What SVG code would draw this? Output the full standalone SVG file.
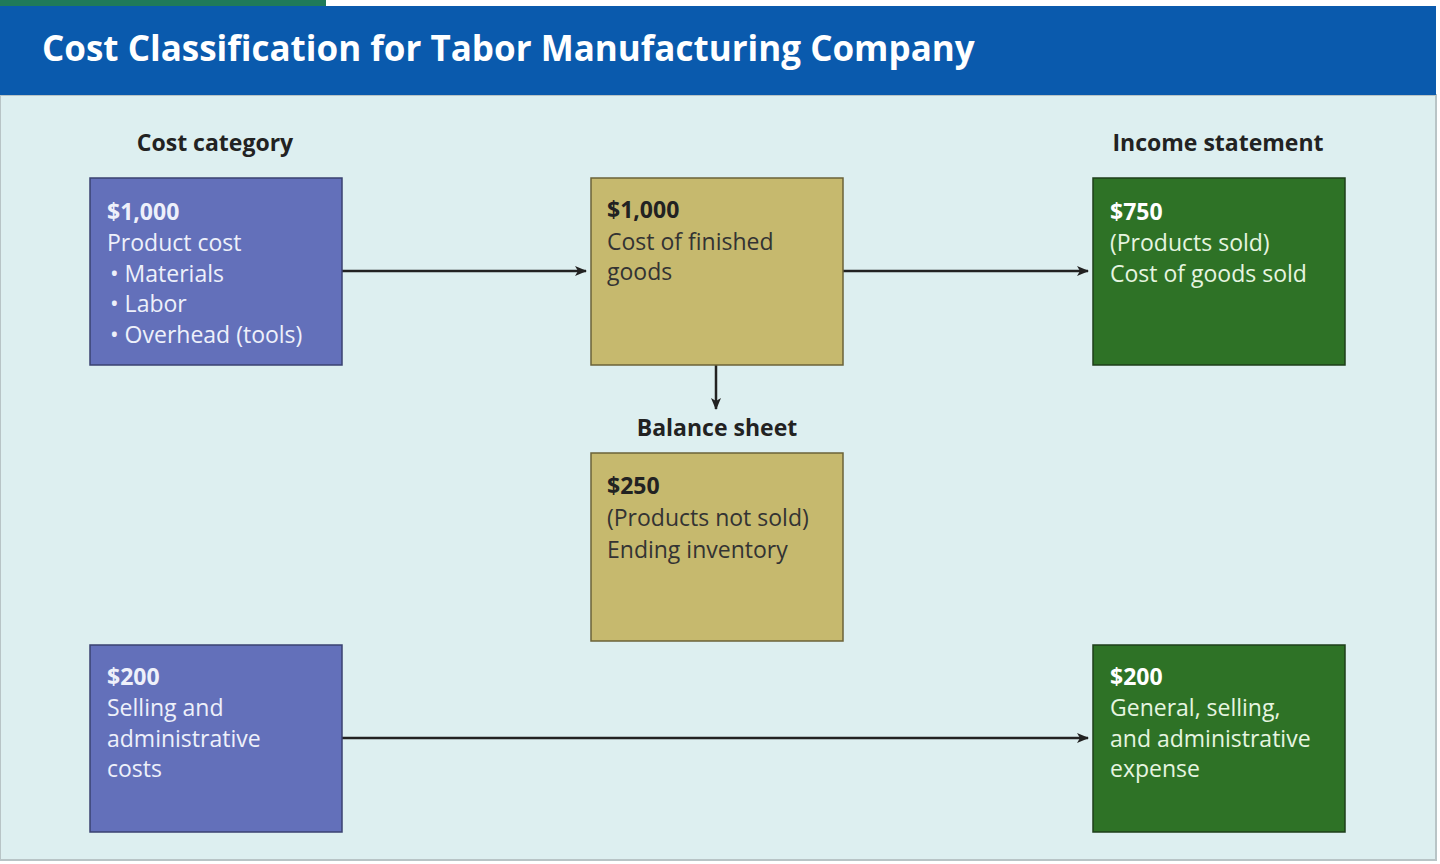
<svg xmlns="http://www.w3.org/2000/svg" width="1440" height="864" viewBox="0 0 1440 864">
<defs>
<style>
text{font-family:"Open Sans","Liberation Sans",sans-serif;}
.h{font-size:23px;font-weight:bold;fill:#222;}
.t{font-size:23px;}
.b{font-weight:bold;}
.w{fill:#eef0fa;}
.k{fill:#333;}
.g{fill:#e6f5e0;}
.blue{fill:#6370ba;stroke:#3a4270;stroke-width:1.5;}
.tan{fill:#c6b96e;stroke:#6b6338;stroke-width:1.5;}
.grn{fill:#2e7226;stroke:#1e3f1a;stroke-width:1.5;}
.c{stroke:#222;stroke-width:2.5;fill:none;marker-end:url(#a);}
</style>
<marker id="a" viewBox="0 0 12 10" refX="11" refY="5" markerWidth="12" markerHeight="10" markerUnits="userSpaceOnUse" orient="auto"><path d="M0,0 L12,5 L0,10 L3,5 Z" fill="#222"/></marker>
</defs>
<rect width="1440" height="864" fill="#fff"/>
<rect x="0" y="95" width="1436" height="765" fill="#ddeff0" stroke="#b8c4c6" stroke-width="2"/>
<rect x="0" y="0" width="326" height="6" fill="#1f7a5a"/>
<rect x="0" y="6" width="1436" height="89" fill="#0a5aad"/>
<text x="42" y="61" style="font-size:35px;font-weight:bold;fill:#fff;font-family:'Open Sans','Liberation Sans',sans-serif">Cost Classification for Tabor Manufacturing Company</text>
<text x="215" y="151" text-anchor="middle" class="h">Cost category</text>
<text x="1218" y="151" text-anchor="middle" class="h">Income statement</text>
<text x="717" y="436" text-anchor="middle" class="h">Balance sheet</text>
<g id="connectors">
<line x1="342" y1="271" x2="586" y2="271" class="c"/>
<line x1="843" y1="271" x2="1088" y2="271" class="c"/>
<line x1="716" y1="365" x2="716" y2="409" class="c"/>
<line x1="342" y1="738" x2="1088" y2="738" class="c"/>
</g>
<g id="n1"><rect x="90" y="178" width="252" height="187" class="blue"/>
<text class="t w"><tspan x="107" y="220" class="b">$1,000</tspan><tspan x="107" y="251">Product cost</tspan><tspan x="110" y="282">•  Materials</tspan><tspan x="110" y="312">•  Labor</tspan><tspan x="110" y="343">•  Overhead (tools)</tspan></text></g>
<g id="n2"><rect x="591" y="178" width="252" height="187" class="tan"/>
<text class="t k"><tspan x="607" y="218" class="b" style="fill:#222">$1,000</tspan><tspan x="607" y="250">Cost of finished</tspan><tspan x="607" y="280">goods</tspan></text></g>
<g id="n3"><rect x="1093" y="178" width="252" height="187" class="grn"/>
<text class="t g"><tspan x="1110" y="220" class="b" style="fill:#fff">$750</tspan><tspan x="1110" y="251">(Products sold)</tspan><tspan x="1110" y="282">Cost of goods sold</tspan></text></g>
<g id="n4"><rect x="591" y="453" width="252" height="188" class="tan"/>
<text class="t k"><tspan x="607" y="494" class="b" style="fill:#222">$250</tspan><tspan x="607" y="526">(Products not sold)</tspan><tspan x="607" y="558">Ending inventory</tspan></text></g>
<g id="n5"><rect x="90" y="645" width="252" height="187" class="blue"/>
<text class="t w"><tspan x="107" y="685" class="b">$200</tspan><tspan x="107" y="716">Selling and</tspan><tspan x="107" y="747">administrative</tspan><tspan x="107" y="777">costs</tspan></text></g>
<g id="n6"><rect x="1093" y="645" width="252" height="187" class="grn"/>
<text class="t g"><tspan x="1110" y="685" class="b" style="fill:#fff">$200</tspan><tspan x="1110" y="716">General, selling,</tspan><tspan x="1110" y="747">and administrative</tspan><tspan x="1110" y="777">expense</tspan></text></g>
</svg>
